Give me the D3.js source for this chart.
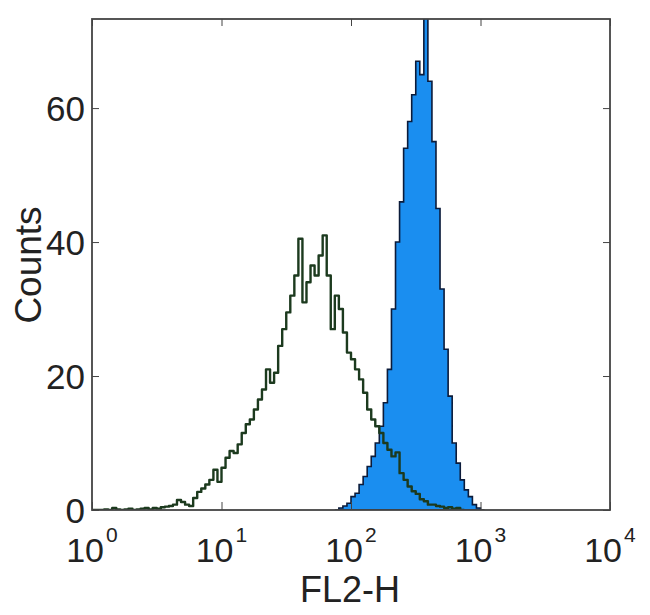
<!DOCTYPE html>
<html><head><meta charset="utf-8">
<script src="https://cdn.jsdelivr.net/npm/d3@7"></script>
<style>body{margin:0;background:#fff}svg{display:block}text{font-family:"Liberation Sans",Arial,sans-serif;fill:#222}</style>
</head><body><svg id="c" width="650" height="615"></svg>
<script>
// Histogram channels: 32 bins per decade over 10^0 .. 10^4
const binsPerDecade = 32;
const xTickLabels = [{base:"10",exp:"0",v:1},{base:"10",exp:"1",v:10},{base:"10",exp:"2",v:100},{base:"10",exp:"3",v:1000},{base:"10",exp:"4",v:10000}];
const yTicks = [0,20,40,60];
// open (isotype) histogram, starting at bin 0
const greenStart = 0;
const greenCounts = [0,0,0,0.1,0,0.3,0.1,0,0.1,0.2,0,0.1,0.2,0.3,0.1,0.3,0.2,0.4,0.5,0.6,0.8,1.5,1.2,0.8,0.6,1.8,2.7,3.2,3.8,4.5,6,4.2,6.3,7.8,8.8,8.5,9.8,11.5,12.8,13.5,15,16.5,18,21,19,20.5,24.5,27,29.5,32,35,40.5,31,34,36.5,35,38,41,35,27,32,30,26.5,23.5,22.5,21,19.5,17.5,15,13.5,12.5,11.5,10,9,8,8.6,5.5,4.5,3.5,2.8,2.4,1.6,1.3,0.8,0.8,0.6,0.5,0.3,0.4,0.2,0.3,0];
// filled (stained) histogram, starting at bin 60
const blueStart = 60;
const blueCounts = [0,0.3,0.6,1,2,2.5,3.8,5,6.5,8,10,12.5,16,21,30,40,46,54,58,62,67,65,76,64,55,45,33,24,17,10,7,4.5,3,2,0.8,0.3,0];

const svg = d3.select("#c");
const L=92,R=610,T=19,B=510;
const x = d3.scaleLog().domain([1,1e4]).range([L,R]);
const y = d3.scaleLinear().domain([0,73.3]).range([B,T]);

function steps(start, counts){
  const pts=[];
  counts.forEach((c,i)=>{
    const a=Math.pow(10,(start+i)/binsPerDecade), b=Math.pow(10,(start+i+1)/binsPerDecade);
    pts.push([a,c],[b,c]);
  });
  return pts;
}
svg.append("clipPath").attr("id","clip").append("rect").attr("x",L).attr("y",T).attr("width",R-L).attr("height",B-T);
const g = svg.append("g").attr("clip-path","url(#clip)");
const bluePts = steps(blueStart, blueCounts);
g.append("path").datum(bluePts)
  .attr("d", d3.area().x(d=>x(d[0])).y0(y(0)).y1(d=>y(d[1])))
  .attr("fill","#1a8ef0").attr("stroke","#0b1b3a").attr("stroke-width",1.6);
const greenPts = steps(greenStart, greenCounts);
g.append("path").datum(greenPts)
  .attr("d", d3.line().x(d=>x(d[0])).y(d=>y(d[1])))
  .attr("fill","none").attr("stroke","#1c3a1e").attr("stroke-width",2.4).attr("stroke-linejoin","round");

// frame + inward ticks
const axCol="#444";
svg.append("g").attr("transform",`translate(${L},0)`).call(d3.axisLeft(y).tickValues(yTicks).tickSize(-7).tickPadding(7))
  .call(s=>{s.select(".domain").remove();s.selectAll("line").attr("stroke",axCol);s.selectAll("text").attr("font-size",35).attr("fill","#222").attr("dy","0.35em");});
svg.append("g").attr("transform",`translate(${R},0)`).call(d3.axisRight(y).tickValues(yTicks).tickSize(-7).tickFormat(""))
  .call(s=>{s.select(".domain").remove();s.selectAll("line").attr("stroke",axCol);});
svg.append("g").attr("transform",`translate(0,${T})`).call(d3.axisTop(x).tickValues(xTickLabels.map(d=>d.v)).tickSize(-7).tickFormat(""))
  .call(s=>{s.select(".domain").remove();s.selectAll("line").attr("stroke",axCol);});
svg.append("g").attr("transform",`translate(0,${B})`).call(d3.axisBottom(x).tickValues(xTickLabels.map(d=>d.v)).tickSize(-8).tickFormat(""))
  .call(s=>{s.select(".domain").remove();s.selectAll("line").attr("stroke",axCol);});
svg.append("rect").attr("x",L).attr("y",T).attr("width",R-L).attr("height",B-T).attr("fill","none").attr("stroke",axCol).attr("stroke-width",1.8);

const xlg = svg.append("g");
xlg.selectAll("text.base").data(xTickLabels).join("text").attr("class","base")
  .attr("x",d=>x(d.v)+12).attr("y",562).attr("text-anchor","end").attr("font-size",34).text(d=>d.base);
xlg.selectAll("text.exp").data(xTickLabels).join("text").attr("class","exp")
  .attr("x",d=>x(d.v)+14).attr("y",542).attr("text-anchor","start").attr("font-size",21).text(d=>d.exp);

svg.append("text").attr("x",350).attr("y",602).attr("text-anchor","middle").attr("font-size",36).text("FL2-H");
svg.append("text").attr("transform","translate(41,265) rotate(-90)").attr("text-anchor","middle").attr("font-size",37).text("Counts");
</script></body></html>
